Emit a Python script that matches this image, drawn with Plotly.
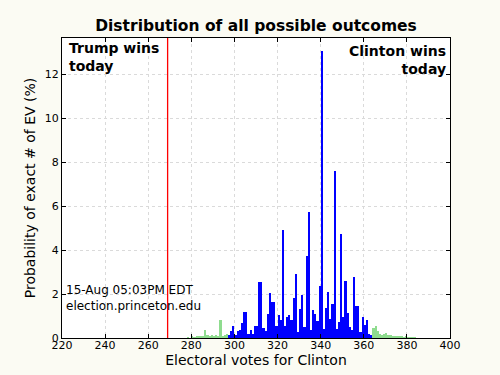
import plotly.graph_objects as go

# ---- data (percent probability of each exact EV total for Clinton) ----
blue_ev = list(range(297, 364))
blue_prob = [0.14, 0.33, 0.55, 0.12, 0.33, 0.36, 0.67, 1.18, 1.18, 0.20,
             0.36, 0.20, 0.55, 0.55, 2.56, 2.56, 0.45, 0.33, 1.09, 2.06,
             1.64, 1.64, 0.55, 1.05, 0.82, 4.90, 0.55, 0.97, 1.05, 0.82,
             1.83, 2.90, 0.29, 1.32, 1.95, 0.52, 3.73, 5.73, 0.36, 1.27,
             1.09, 0.79, 2.36, 13.05, 0.39, 1.36, 2.10, 0.85, 1.55, 7.60,
             0.39, 0.73, 4.73, 0.97, 2.59, 1.15, 0.52, 0.35, 2.79, 1.45,
             1.45, 0.29, 0.97, 0.60, 0.82, 0.20, 0.12]

green_left_ev = [278, 280, 281, 282, 283, 284, 285, 286, 287, 288, 289, 290,
                 291, 292, 293, 294, 295, 296]
green_left_prob = [0.03, 0.10, 0.04, 0.05, 0.08, 0.05, 0.10, 0.36, 0.15, 0.06,
                   0.12, 0.05, 0.12, 0.10, 0.82, 0.10, 0.15, 0.20]

green_right_ev = list(range(364, 384))
green_right_prob = [0.44, 0.55, 0.30, 0.18, 0.12, 0.20, 0.25, 0.12, 0.15, 0.06,
                    0.05, 0.06, 0.05, 0.06, 0.04, 0.05, 0.03, 0.02, 0.02, 0.01]

threshold_ev = 269
x_ticks = [220, 240, 260, 280, 300, 320, 340, 360, 380, 400]
y_ticks = [0, 2, 4, 6, 8, 10, 12]

FONT = "DejaVu Sans"
BLUE = "#0000ff"
GREEN = "#8fdc8f"

fig = go.Figure()
for xs, ys, col in [(green_left_ev, green_left_prob, GREEN),
                    (green_right_ev, green_right_prob, GREEN),
                    (blue_ev, blue_prob, BLUE)]:
    fig.add_trace(go.Bar(x=xs, y=ys, width=1, offset=0,
                         marker=dict(color=col, line=dict(width=0)),
                         showlegend=False, hoverinfo="x+y"))

fig.add_shape(type="line", x0=threshold_ev, x1=threshold_ev, y0=0, y1=1,
              xref="x", yref="paper", line=dict(color="#ff0000", width=1.3))

axis_common = dict(ticks="inside", ticklen=4, tickcolor="black",
                   showline=True, linecolor="black", linewidth=1,
                   mirror="allticks", showgrid=True, gridcolor="#dadada",
                   griddash="dot", gridwidth=1, zeroline=False,
                   automargin=False, tickfont=dict(size=11))

fig.update_layout(
    width=500, height=375,
    paper_bgcolor="#fbfbf3", plot_bgcolor="white",
    margin=dict(l=62, r=50, t=38, b=37, autoexpand=False),
    bargap=0, barmode="overlay",
    font=dict(family=FONT, color="black", size=11),
    title=dict(text="<b>Distribution of all possible outcomes</b>",
               x=(62 + 450) / 2 / 500, xanchor="center",
               y=1 - 26 / 375, yanchor="middle",
               font=dict(family=FONT, size=15.5, color="black")),
    xaxis=dict(range=[220, 400], tickvals=x_ticks, ticklabelstandoff=-3,
               **axis_common,
               title=dict(text="Electoral votes for Clinton",
                          font=dict(size=14), standoff=0)),
    yaxis=dict(range=[0, 300 / 22], tickvals=y_ticks, **axis_common,
               title=dict(text="Probability of exact # of EV (%)",
                          font=dict(size=14), standoff=5)),
)

fig.add_annotation(text="<b>Trump wins<br>today</b>", xref="paper", yref="paper",
                   x=0.012, y=1.0, xanchor="left", yanchor="top", align="left",
                   showarrow=False, font=dict(size=14, family=FONT))
fig.add_annotation(text="<b>Clinton wins<br>today</b>", xref="paper", yref="paper",
                   x=0.995, y=0.99, xanchor="right", yanchor="top", align="right",
                   showarrow=False, font=dict(size=14, family=FONT))
fig.add_annotation(text="15-Aug 05:03PM EDT<br>election.princeton.edu",
                   xref="paper", yref="paper", x=0.005, y=0.19,
                   xanchor="left", yanchor="top", align="left",
                   showarrow=False, font=dict(size=12, family=FONT))

fig.write_html("out.html", config={"displayModeBar": False})

# remove the default page margin so the figure sits at the window's corner
with open("out.html", "r", encoding="utf-8") as f:
    html = f.read()
html = html.replace("<head>", "<head><style>html,body{margin:0;padding:0;background:#fbfbf3;}</style>", 1)
with open("out.html", "w", encoding="utf-8") as f:
    f.write(html)
